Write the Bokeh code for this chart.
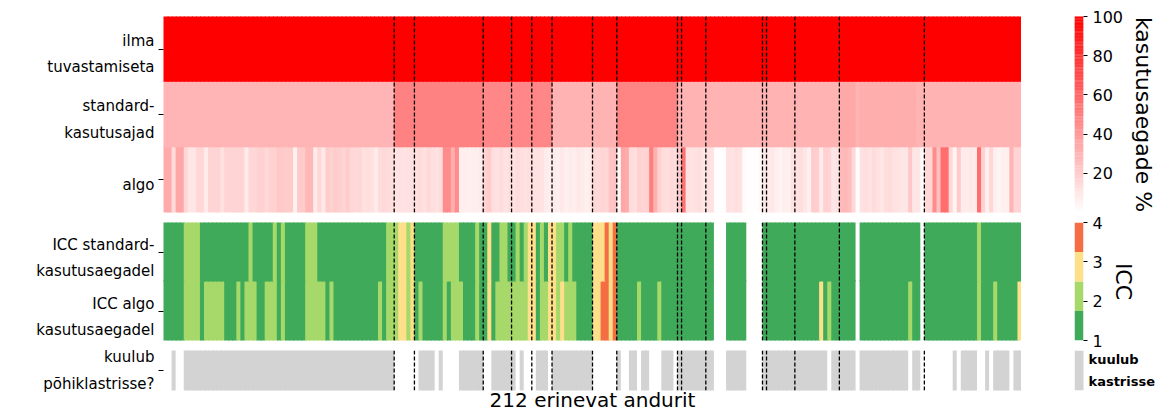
import numpy as np
from bokeh.plotting import figure
from bokeh.models import Range1d, FixedTicker, Span, LinearColorMapper, ColumnDataSource, LinearAxis
from bokeh.transform import transform
from bokeh.layouts import column, row
from bokeh.embed import file_html
from bokeh.resources import INLINE
from bokeh.core.properties import value

FONT = "DejaVu Sans"

# ---------------- data (212 sensors) ----------------
ILMA = [
    100, 100, 100, 100, 100, 100, 100, 100, 100, 100, 100, 100, 100, 100, 100, 100, 100, 100, 100, 100,
    100, 100, 100, 100, 100, 100, 100, 100, 100, 100, 100, 100, 100, 100, 100, 100, 100, 100, 100, 100,
    100, 100, 100, 100, 100, 100, 100, 100, 100, 100, 100, 100, 100, 100, 100, 100, 100, 100, 100, 100,
    100, 100, 100, 100, 100, 100, 100, 100, 100, 100, 100, 100, 100, 100, 100, 100, 100, 100, 100, 100,
    100, 100, 100, 100, 100, 100, 100, 100, 100, 100, 100, 100, 100, 100, 100, 100, 100, 100, 100, 100,
    100, 100, 100, 100, 100, 100, 100, 100, 100, 100, 100, 100, 100, 100, 100, 100, 100, 100, 100, 100,
    100, 100, 100, 100, 100, 100, 100, 100, 100, 100, 100, 100, 100, 100, 100, 100, 100, 100, 100, 100,
    100, 100, 100, 100, 100, 100, 100, 100, 100, 100, 100, 100, 100, 100, 100, 100, 100, 100, 100, 100,
    100, 100, 100, 100, 100, 100, 100, 100, 100, 100, 100, 100, 100, 100, 100, 100, 100, 100, 100, 100,
    100, 100, 100, 100, 100, 100, 100, 100, 100, 100, 100, 100, 100, 100, 100, 100, 100, 100, 100, 100,
    100, 100, 100, 100, 100, 100, 100, 100, 100, 100, 100, 100,
]

STANDARD = [
    29, 29, 29, 29, 29, 29, 29, 29, 29, 29,
    29, 29, 29, 29, 29, 29, 29, 29, 29, 29,
    29, 29, 29, 29, 29, 29, 29, 29, 29, 29,
    29, 29, 29, 29, 29, 29, 29, 29, 29, 29,
    29, 29, 29, 29, 29, 29, 29, 29, 29, 29,
    29, 29, 29, 29, 29, 29, 29, 49, 49, 49,
    49, 49, 49, 49, 49, 49, 49, 49, 49, 49,
    49, 49, 49, 49, 49, 49, 49, 49, 49, 47,
    47, 47, 47, 47, 47, 47, 47, 47, 47, 47,
    47, 47, 47, 47, 47, 47, 30, 30, 30, 30,
    30, 30, 30, 30, 30, 30, 30, 30, 30, 30,
    30, 30, 48, 48, 48, 48, 48, 48, 48, 48,
    48, 48, 48, 48, 48, 48, 48, 30, 30, 30,
    30, 30, 30, 30, 30, 30, 30, 30, 30, 30,
    30, 30, 30, 30, 30, 30, 30, 30, 30, 30,
    30, 30, 30, 30, 30, 30, 30, 30, 30, 30,
    30, 30, 30, 30, 30, 30, 30, 34, 34, 34,
    34, 30, 32, 32, 32, 32, 32, 32, 32, 32,
    32, 32, 32, 32, 32, 32, 30, 30, 30, 30,
    30, 30, 30, 30, 30, 30, 30, 30, 30, 30,
    30, 30, 30, 30, 30, 30, 30, 30, 30, 30,
    30, 30,
]

ALGO = [
    33, 33, 14, 35, 35, 16, 10, 10, 16, 16,
    8, 17, 17, 17, 12, 17, 17, 17, 17, 17,
    8, 16, 16, 18, 18, 15, 18, 18, 22, 21,
    20, 21, 6, 21, 21, 28, 28, 8, 16, 9,
    20, 18, 20, 19, 17, 20, 16, 15, 16, 12,
    13, 12, 8, 14, 15, 14, 13, 11, 12, 11,
    12, 12, 13, 14, 12, 15, 13, 12, 14, 45,
    45, 32, 45, 7, 7, 6, 7, 7, 8, 18,
    20, 13, 12, 14, 11, 13, 12, 14, 13, 12,
    13, 12, 12, 11, 8, 7, 8, 7, 9, 6,
    8, 7, 9, 8, 6, 8, 16, 15, 17, 16,
    23, 24, 3, 35, 33, 14, 13, 18, 17, 18,
    50, 31, 18, 14, 13, 15, 14, 20, 55, 12,
    11, 12, 13, 10, 12, 11, 1, 1, 1, 12,
    11, 13, 12, 2, 1, 1, 1, 2, 9, 8,
    9, 6, 5, 7, 6, 11, 12, 13, 10, 6,
    20, 19, 8, 18, 17, 10, 11, 27, 28, 26,
    16, 1, 12, 13, 11, 14, 12, 10, 13, 14,
    12, 11, 10, 10, 22, 10, 10, 1, 16, 16,
    45, 25, 57, 57, 16, 5, 21, 8, 8, 9,
    8, 57, 18, 7, 16, 6, 5, 6, 6, 30,
    17, 17,
]

# ICC class per sensor (n = missing)
ICC_STANDARD = (
    "1111122221" "1111111111" "1211111212" "1111122211" "1111111111"
    "1111122233" "2311111112" "2221111211" "3112211212" "3312133221"
    "2111113334" "3411111111" "1111111111" "111111nnn1" "1111nnnn11"
    "1111111111" "1111111111" "1n11111111" "1111111n11" "1111111111"
    "1211111111" "11"
)
ICC_ALGO = (
    "1111122221" "2222211121" "2221122212" "1111122222" "1211111111"
    "1112122233" "2312111112" "1222111211" "3122222222" "3312233232"
    "2211113344" "3411111211" "1121111111" "111111nnn1" "1111nnnn11"
    "1111111111" "1131211111" "1n11111111" "1111211n11" "1111111111"
    "1211121111" "13"
)
# 1 = belongs to the main cluster
IN_CLUSTER = (
    "0010011111" "1111111111" "1111111111" "1111111111" "1111111111"
    "1111111000" "0001111010" "0001111110" "0111111010" "0011101111"
    "1111110000" "0010011011" "0001110111" "1111110001" "1111000011"
    "1111111111" "1111011111" "1011111111" "1111011000" "0000010111"
    "1001011110" "11"
)
MARKED = [57, 62, 79, 86, 91, 96, 106, 112, 127, 128, 134, 148, 149, 156, 167, 188]

TOP_LABELS = ["algo", "standard-\nkasutusajad", "ilma\ntuvastamiseta"]
ICC_LABELS = ["ICC algo\nkasutusaegadel", "ICC standard-\nkasutusaegadel"]
CLUSTER_LABEL = "kuulub\npõhiklastrisse?"
X_LABEL = "212 erinevat andurit"
PCT_TICKS = [20, 40, 60, 80, 100]
ICC_TICKS = [1, 2, 3, 4]
PCT_TITLE = "kasutusaegade %"
ICC_TITLE = "ICC"
LEGEND_TEXT = "kuulub\nkastrisse"

# ---------------- styling ----------------
N = len(ALGO)
RED_PALETTE = ["#%02x%02x%02x" % (255, 255 - k, 255 - k) for k in range(256)]
ICC_PALETTE = ["#3faa59", "#a6d96a", "#fee08b", "#f46d43"]
GRAY = "#d3d3d3"
pct_mapper = LinearColorMapper(palette=RED_PALETTE, low=0, high=100)
icc_mapper = LinearColorMapper(palette=ICC_PALETTE, low=ICC_TICKS[0], high=ICC_TICKS[-1])

FRAME_LEFT = 163
FRAME_W = 858
BAR_GAP = 53
BAR_W = 9
OVERLAP = 0.3      # cells overlap their right neighbour slightly to hide anti-alias seams
ROW_OVERLAP = 0.03


def heat_figure(frame_h, b_top, b_bottom, n_rows, with_x=False):
    p = figure(frame_width=FRAME_W, frame_height=frame_h,
               x_range=Range1d(0, N), y_range=Range1d(-0.5, n_rows - 0.5),
               min_border_left=FRAME_LEFT, min_border_right=0,
               min_border_top=b_top, min_border_bottom=b_bottom,
               x_axis_location="below" if with_x else None,
               toolbar_location=None, tools="", output_backend="svg")
    p.grid.visible = False
    p.outline_line_color = None
    return p


def style_left_axis(p, labels, frame_h, label_drop_px):
    """Tick marks at row centres (inner axis); labels on an outer axis,
    dropped a few pixels like matplotlib's baseline-centred tick labels."""
    n = len(labels)
    ticks = list(range(n))
    inner = p.yaxis[0]
    inner.ticker = FixedTicker(ticks=ticks)
    inner.major_label_overrides = {i: "" for i in ticks}
    inner.major_label_standoff = 0
    inner.major_label_text_font_size = "1px"
    inner.axis_line_color = None
    inner.major_tick_in = 0
    inner.major_tick_out = 5
    inner.major_tick_line_color = "black"
    inner.minor_tick_line_color = None

    drop = label_drop_px * n / frame_h
    p.extra_y_ranges = {"labels": Range1d(-0.5 + drop, n - 0.5 + drop)}
    outer = LinearAxis(y_range_name="labels", ticker=FixedTicker(ticks=ticks),
                       major_label_overrides={i: lab for i, lab in enumerate(labels)})
    outer.axis_line_color = None
    outer.major_tick_in = 0
    outer.major_tick_out = 0
    outer.major_tick_line_color = None
    outer.minor_tick_line_color = None
    outer.major_label_text_font = FONT
    outer.major_label_text_font_size = "15px"
    outer.major_label_text_color = "black"
    outer.major_label_standoff = 4
    outer.major_label_text_line_height = 1.45
    p.add_layout(outer, "left")


def add_marks(p):
    for m in MARKED:
        p.add_layout(Span(location=m, dimension="height", line_color="black",
                          line_dash="4 2", line_width=1.3))


def cells(rows_of_values, n_rows):
    """Cells extend slightly under their neighbours (and past the frame,
    which clips them) so that no anti-aliasing seams show."""
    left, right, bottom, top, val = [], [], [], [], []
    for r, series in enumerate(rows_of_values):
        for i, v in enumerate(series):
            if v is None:
                continue
            nxt = series[i + 1] if i + 1 < len(series) else 0
            left.append(i - (OVERLAP if i == 0 else 0))
            right.append(i + 1 + (OVERLAP if nxt is not None else 0))
            bottom.append(r - 0.5 - (ROW_OVERLAP if r == 0 else 0))
            top.append(r + 0.5 + ROW_OVERLAP)
            val.append(v)
    return ColumnDataSource(dict(left=left, right=right, bottom=bottom, top=top, val=val))


def bar_figure(frame_h, b_top, b_bottom, y0, y1, ticks, title):
    p = figure(frame_width=BAR_W, frame_height=frame_h,
               x_range=Range1d(0, 1), y_range=Range1d(y0, y1),
               min_border_left=BAR_GAP, min_border_right=5,
               min_border_top=b_top, min_border_bottom=b_bottom,
               x_axis_location=None, y_axis_location="right",
               toolbar_location=None, tools="", output_backend="svg")
    p.grid.visible = False
    p.outline_line_color = None
    ax = p.yaxis[0]
    ax.ticker = FixedTicker(ticks=ticks)
    ax.axis_line_color = None
    ax.major_tick_in = 0
    ax.major_tick_out = 4
    ax.major_tick_line_color = "black"
    ax.minor_tick_line_color = None
    ax.major_label_text_font = FONT
    ax.major_label_text_font_size = "16px"
    ax.major_label_text_color = "black"
    ax.major_label_standoff = 5
    ax.axis_label = title
    ax.axis_label_text_font = FONT
    ax.axis_label_text_font_size = "22px"
    ax.axis_label_text_font_style = "normal"
    ax.axis_label_text_color = "black"
    ax.axis_label_standoff = 5
    return p


# ---------------- panel 1: usage percentages ----------------
f1 = heat_figure(196, 16, 5, 3)
src1 = cells([ALGO, STANDARD, ILMA], 3)
f1.quad(left="left", right="right", bottom="bottom", top="top", source=src1,
        fill_color=transform("val", pct_mapper), line_color=None)
style_left_axis(f1, TOP_LABELS, 196, 5)
add_marks(f1)

# ---------------- panel 2: ICC ----------------
def parse_icc(s):
    return [None if c == "n" else int(c) for c in s]


f2 = heat_figure(118, 5, 5, 2)
src2 = cells([parse_icc(ICC_ALGO), parse_icc(ICC_STANDARD)], 2)
f2.quad(left="left", right="right", bottom="bottom", top="top", source=src2,
        fill_color=transform("val", icc_mapper), line_color=None)
style_left_axis(f2, ICC_LABELS, 118, 6)
add_marks(f2)

# ---------------- panel 3: cluster membership ----------------
f3 = heat_figure(40, 5, 22, 1, with_x=True)
src3 = cells([[1 if c == "1" else None for c in IN_CLUSTER]], 1)
f3.quad(left="left", right="right", bottom="bottom", top="top", source=src3,
        fill_color=GRAY, line_color=None)
style_left_axis(f3, [CLUSTER_LABEL], 40, 0)
add_marks(f3)
xa = f3.xaxis[0]
xa.ticker = FixedTicker(ticks=[])
xa.axis_line_color = None
xa.major_tick_line_color = None
xa.minor_tick_line_color = None
xa.major_tick_out = 0
xa.major_label_standoff = 0
xa.axis_label = X_LABEL
xa.axis_label_text_font = FONT
xa.axis_label_text_font_size = "20px"
xa.axis_label_text_font_style = "normal"
xa.axis_label_text_color = "black"
xa.axis_label_standoff = -3

# ---------------- colour bars ----------------
c1 = bar_figure(196, 16, 0, 0, 100, PCT_TICKS, PCT_TITLE)
edges = np.linspace(0, 100, len(RED_PALETTE) + 1)
c1.quad(left=0, right=1, bottom=edges[:-1], top=edges[1:] + 0.2,
        fill_color=RED_PALETTE, line_color=None)

c2 = bar_figure(118, 10, 10, ICC_TICKS[0], ICC_TICKS[-1], ICC_TICKS, ICC_TITLE)
edges2 = np.linspace(ICC_TICKS[0], ICC_TICKS[-1], len(ICC_PALETTE) + 1)
c2.quad(left=0, right=1, bottom=edges2[:-1], top=edges2[1:],
        fill_color=ICC_PALETTE, line_color=None)

c3 = figure(frame_width=91, frame_height=40, x_range=Range1d(0, 91), y_range=Range1d(0, 1),
            min_border_left=BAR_GAP, min_border_right=0, min_border_top=0, min_border_bottom=22,
            x_axis_location=None, y_axis_location=None,
            toolbar_location=None, tools="", output_backend="svg")
c3.grid.visible = False
c3.outline_line_color = None
c3.quad(left=[0], right=[BAR_W], bottom=[0], top=[1], fill_color=GRAY, line_color=None)
c3.text(x=[14], y=[0.5], text=[LEGEND_TEXT], text_font=value(FONT), text_font_style="bold",
        text_font_size="13px", text_baseline="middle", text_align="left",
        text_line_height=1.45, text_color="black")

layout = row(column(f1, f2, f3), column(c1, c2, c3))

open("out.html", "w").write(file_html(layout, INLINE, title="andurid"))
